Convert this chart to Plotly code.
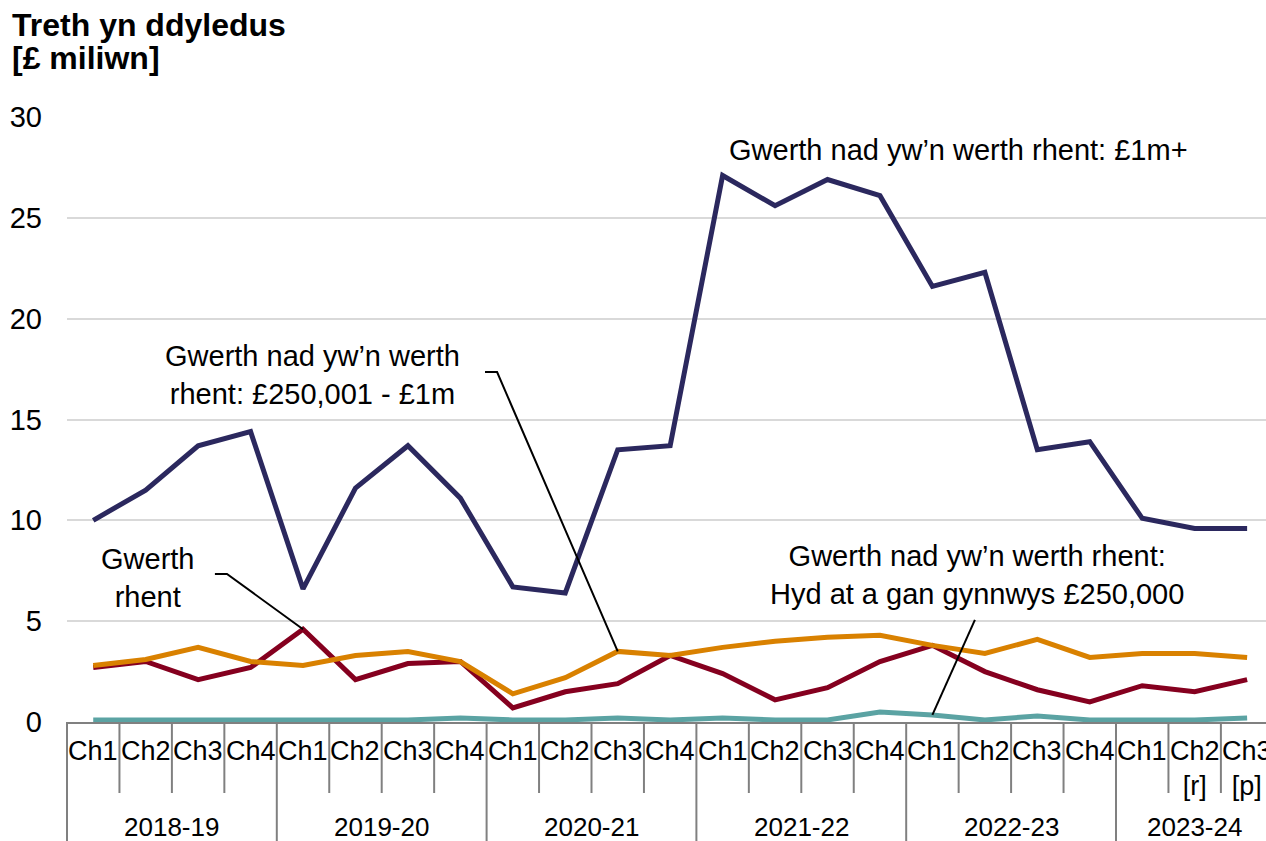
import plotly.graph_objects as go

# ---- data -------------------------------------------------------------
years = (["2018-19"] * 4 + ["2019-20"] * 4 + ["2020-21"] * 4 +
         ["2021-22"] * 4 + ["2022-23"] * 4 + ["2023-24"] * 3)
quarters = ["Ch1", "Ch2", "Ch3", "Ch4"] * 5 + ["Ch1", "Ch2<br>[r]", "Ch3<br>[p]"]

nonrent_1m_plus = [10.0, 11.5, 13.7, 14.4, 6.6, 11.6, 13.7, 11.1, 6.7, 6.4, 13.5, 13.7,
                   27.1, 25.6, 26.9, 26.1, 21.6, 22.3, 13.5, 13.9, 10.1, 9.6, 9.6]
nonrent_250k_1m = [2.8, 3.1, 3.7, 3.0, 2.8, 3.3, 3.5, 3.0, 1.4, 2.2, 3.5, 3.3,
                   3.7, 4.0, 4.2, 4.3, 3.8, 3.4, 4.1, 3.2, 3.4, 3.4, 3.2]
rent_value = [2.7, 3.0, 2.1, 2.7, 4.6, 2.1, 2.9, 3.0, 0.7, 1.5, 1.9, 3.3,
              2.4, 1.1, 1.7, 3.0, 3.8, 2.5, 1.6, 1.0, 1.8, 1.5, 2.1]
nonrent_upto_250k = [0.1, 0.1, 0.1, 0.1, 0.1, 0.1, 0.1, 0.2, 0.1, 0.1, 0.2, 0.1,
                     0.2, 0.1, 0.1, 0.5, 0.35, 0.1, 0.3, 0.1, 0.1, 0.1, 0.2]

series_names = ["Gwerth nad yw’n werth rhent: £1m+",
                "Gwerth nad yw’n werth rhent: £250,001 - £1m",
                "Gwerth rhent",
                "Gwerth nad yw’n werth rhent: Hyd at a gan gynnwys £250,000"]
series_values = [nonrent_1m_plus, nonrent_250k_1m, rent_value, nonrent_upto_250k]
series_colors = ["#2B285E", "#D98100", "#85001F", "#5BA3A3"]

y_title_lines = ["<b>Treth yn ddyledus</b>", "<b>[£ miliwn]</b>"]

# ---- figure -----------------------------------------------------------
FONT = "Liberation Sans, Arial, sans-serif"
X_RANGE = [-0.5, 22.36]
PLOT_W, PLOT_H = 1199, 605
AXIS_GREY = "#808080"


def xp(i):
    """category index -> paper fraction"""
    return (i - X_RANGE[0]) / (X_RANGE[1] - X_RANGE[0])


def yp(px_below_axis):
    """pixels below the x axis -> paper fraction"""
    return -px_below_axis / PLOT_H


fig = go.Figure()
for name, vals, col in zip(series_names[::-1], series_values[::-1], series_colors[::-1]):
    fig.add_trace(go.Scatter(x=[years, quarters], y=vals, name=name, mode="lines",
                             line=dict(color=col, width=5), showlegend=False))

# line labels
labels = [
    dict(x=xp(12.08), y=28.36, text="Gwerth nad yw’n werth rhent: £1m+", xanchor="left"),
    dict(x=xp(4.18), y=17.2, text="Gwerth nad yw’n werth<br>rhent: £250,001 - £1m", xanchor="center"),
    dict(x=xp(1.04), y=7.14, text="Gwerth<br>rhent", xanchor="center"),
    dict(x=xp(16.85), y=7.29, text="Gwerth nad yw’n werth rhent:<br>Hyd at a gan gynnwys £250,000",
         xanchor="center"),
]
for a in labels:
    fig.add_annotation(xref="paper", yref="y", yanchor="middle", showarrow=False,
                       font=dict(family=FONT, size=29, color="#000000"), **a)

# leader lines
leaders = [
    [(7.47, 17.35), (7.70, 17.35), (10, nonrent_250k_1m[10])],
    [(2.32, 7.34), (2.55, 7.34), (4, rent_value[4])],
    [(16.81, 5.06), (16, nonrent_upto_250k[16])],
]
for pts in leaders:
    path = "M " + " L ".join(f"{xp(i):.5f},{v}" for i, v in pts)
    fig.add_shape(type="path", xref="paper", yref="y", path=path,
                  line=dict(color="#000000", width=2))

# two-level category axis: quarter labels, year labels, ticks and dividers
n = len(quarters)
for i, q in enumerate(quarters):
    fig.add_annotation(xref="paper", yref="paper", x=xp(i), y=yp(12), xanchor="center",
                       yanchor="top", text=q, showarrow=False,
                       font=dict(family=FONT, size=27, color="#000000"))
group_start = 0
for i in range(1, n + 1):
    if i == n or years[i] != years[i - 1]:
        fig.add_annotation(xref="paper", yref="paper", x=xp((group_start + i - 1) / 2),
                           y=yp(105), xanchor="center", yanchor="middle",
                           text=years[group_start], showarrow=False, borderpad=0,
                           font=dict(family=FONT, size=26, color="#000000"))
        group_start = i
for i in range(n + 1):
    b = i - 0.5
    is_divider = i == 0 or i == n or years[i] != years[i - 1]
    fig.add_shape(type="line", xref="paper", yref="paper", x0=xp(b), x1=xp(b),
                  y0=0, y1=yp(125 if is_divider else 71),
                  line=dict(color=AXIS_GREY, width=2))

# axis title (two lines, tight spacing)
for k, line in enumerate(y_title_lines):
    fig.add_annotation(xref="paper", yref="paper", x=-57 / PLOT_W,
                       y=1 + (117 - 25 - 33 * k) / PLOT_H,
                       xanchor="left", yanchor="middle", text=line, showarrow=False,
                       font=dict(family=FONT, size=32, color="#000000"))

fig.update_layout(
    width=1266, height=841,
    margin=dict(l=67, r=0, t=117, b=119),
    paper_bgcolor="white", plot_bgcolor="white",
    font=dict(family=FONT, color="#000000"),
    xaxis=dict(type="multicategory", range=X_RANGE, showline=True, linecolor=AXIS_GREY,
               linewidth=2, ticks="", showticklabels=False, showdividers=False,
               showgrid=False, zeroline=False),
    yaxis=dict(range=[0, 30], dtick=5, showgrid=True, gridcolor="#D9D9D9", gridwidth=2,
               zeroline=False, showline=False, ticks="", ticklabelstandoff=24,
               tickfont=dict(family=FONT, size=29, color="#000000")),
)

fig.write_html("out.html", config={"displayModeBar": False},
               post_script="document.body.style.margin='0';")
